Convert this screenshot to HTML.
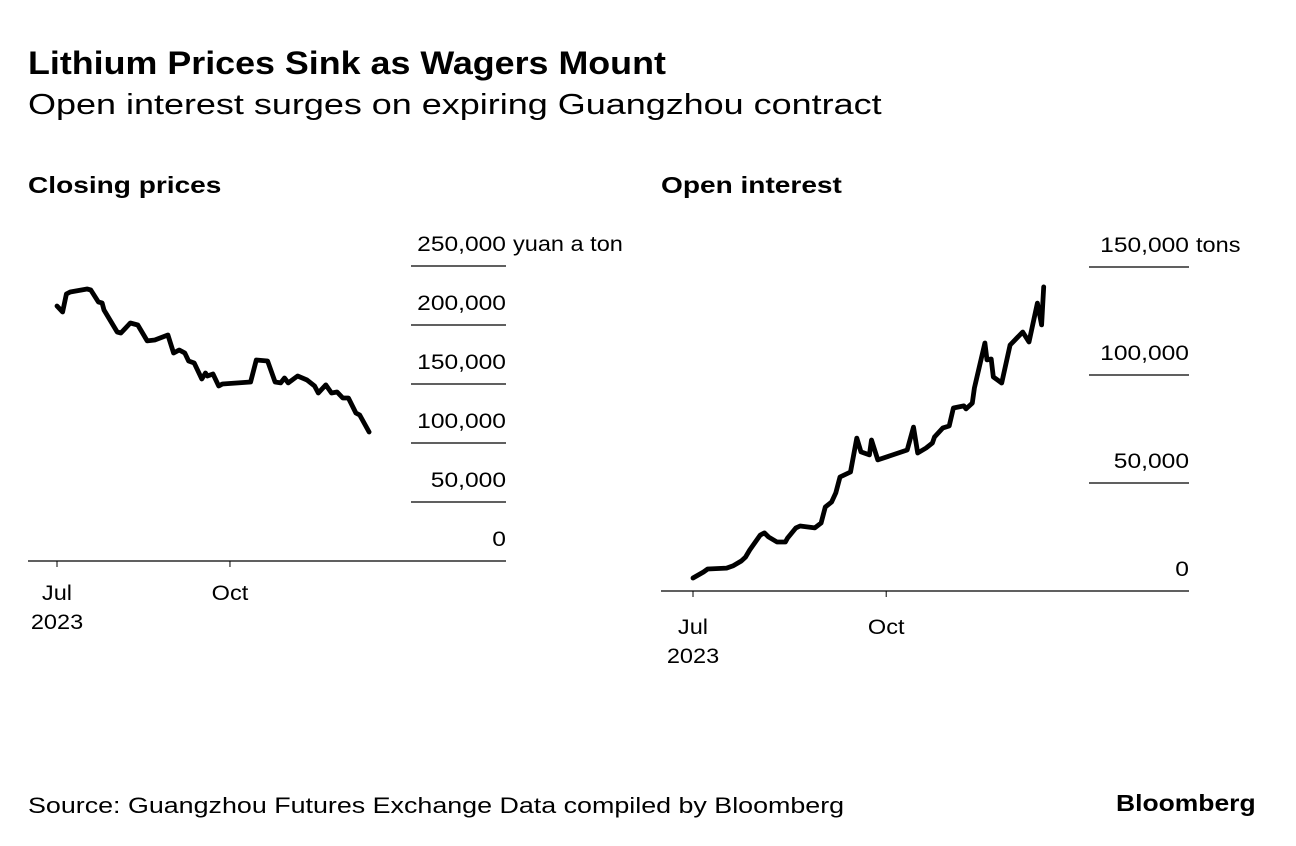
<!DOCTYPE html>
<html><head><meta charset="utf-8">
<style>
html,body{margin:0;padding:0;background:#fff;}
svg{display:block;font-family:"Liberation Sans",Arial,sans-serif;}
</style></head>
<body>
<svg id="c" width="1296" height="846" viewBox="0 0 1296 846">
<text x="28" y="74" font-size="32" font-weight="bold" fill="#000" data-sc="1.12">Lithium Prices Sink as Wagers Mount</text>
<text x="28" y="114" font-size="29" fill="#000" data-sc="1.24">Open interest surges on expiring Guangzhou contract</text>
<text x="28" y="193" font-size="23" font-weight="bold" data-sc="1.22">Closing prices</text>
<text x="661" y="193" font-size="23" font-weight="bold" data-sc="1.22">Open interest</text>
<text x="28" y="813" font-size="22" data-sc="1.22">Source: Guangzhou Futures Exchange Data compiled by Bloomberg</text>
<text x="1116" y="811" font-size="23" font-weight="bold" data-sc="1.15">Bloomberg</text>
<g id="left"></g>
<g id="right"></g>
</svg>
<script>
const priceDays=[0,3,5,7,10,16,18,22,24,25,32,34,39,43,48,52,59,62,65,68,70,73,77,79,80,83,86,88,103,106,112,116,119,121,123,128,133,137,139,143,146,149,152,155,159,161,166];
const priceValues=[216100,211000,226300,228000,228800,230500,229700,219500,218700,212700,194100,193200,201700,200000,186500,187300,191500,176300,178800,176300,169500,167800,154200,159300,156800,158500,148300,150000,151700,170300,169500,151700,150900,155100,150900,156800,153400,148300,142400,149200,142400,143200,138100,138100,125400,123700,109300];
const priceTicks=[0,50000,100000,150000,200000,250000];
const priceTickLabels=["0","50,000","100,000","150,000","200,000","250,000"];
const oiDays=[0,5,7,16,19,23,25,27,32,34,36,40,44,45,49,51,58,61,63,66,68,70,75,78,80,84,85,88,102,105,107,111,114,115,119,122,124,129,130,133,134,139,140,142,143,147,151,157,160,164,166,167];
const oiValues=[6000,8800,10200,10600,11600,13900,15700,19000,25900,26900,25000,22700,22700,24500,29200,30100,29200,31500,38900,41200,45400,52800,55100,70800,64400,63000,69900,60700,65300,75900,63900,66200,68500,71300,75500,76400,84700,85700,84300,87000,94000,114800,107000,107400,99100,96300,113900,119900,115300,133300,123200,140800];
const oiTicks=[0,50000,100000,150000];
const oiTickLabels=["0","50,000","100,000","150,000"];
const monthTicks=[0,92];
const monthLabels=["Jul","Oct"];

const NS="http://www.w3.org/2000/svg";
function mk(parent,tag,attrs,text){const e=document.createElementNS(NS,tag);for(const k in attrs)e.setAttribute(k,attrs[k]);if(text!==undefined)e.textContent=text;parent.appendChild(e);return e;}

function drawPanel(g,cfg,days,vals,ticks,labels,unit,prefix){
  const xs=d=>cfg.x0+d*cfg.pxDay;
  const ys=v=>cfg.yBase-v/ticks[ticks.length-1]*(cfg.yBase-cfg.yTop);
  ticks.forEach((t,i)=>{
    const y=ys(t);
    if(t!==0){
      const l=mk(g,'line',{x1:cfg.gx0,x2:cfg.gx1,y1:y,y2:y,stroke:'#000','stroke-width':1.2});
      
      
    }
    const tx=mk(g,'text',{x:cfg.gx1,y:y-15,'font-size':21,'text-anchor':'end','data-sc':'1.17'},labels[i]);
    
    
    if(i===ticks.length-1){
      const u=mk(g,'text',{x:cfg.gx1+7,y:y-15,'font-size':21,'data-sc':'1.12'},unit);
      
      
    }
  });
  const ax=mk(g,'line',{x1:cfg.ax0,x2:cfg.gx1,y1:cfg.yBase,y2:cfg.yBase,stroke:'#000','stroke-width':1.3});
  
  
  monthTicks.forEach((d,i)=>{
    const x=xs(d);
    const t=mk(g,'line',{x1:x,x2:x,y1:cfg.yBase,y2:cfg.yBase+6,stroke:'#000','stroke-width':1});
    
    
    const tl=mk(g,'text',{x:x,y:cfg.yBase+cfg.lblOff,'font-size':21,'text-anchor':'middle','data-sc':'1.12'},monthLabels[i]);
    
    
    if(i===0){
      const yr=mk(g,'text',{x:x,y:cfg.yBase+cfg.lblOff+29,'font-size':21,'text-anchor':'middle','data-sc':'1.12'},'2023');
      
      
    }
  });
  const pts=days.map((d,i)=>xs(d).toFixed(1)+','+ys(vals[i]).toFixed(1)).join(' ');
  const p=mk(g,'polyline',{points:pts,fill:'none',stroke:'#000','stroke-width':4.8,'stroke-linejoin':'round','stroke-linecap':'round'});
  
  
}
drawPanel(document.getElementById('left'),{x0:57,pxDay:1.88,yBase:561,yTop:266,gx0:411,gx1:506,ax0:28,lblOff:39},priceDays,priceValues,priceTicks,priceTickLabels,'yuan a ton','price');
drawPanel(document.getElementById('right'),{x0:693,pxDay:2.1,yBase:591,yTop:267,gx0:1089,gx1:1189,ax0:661,lblOff:43},oiDays,oiValues,oiTicks,oiTickLabels,'tons','oi');
document.querySelectorAll('text[data-sc]').forEach(t=>{
  const w=t.getComputedTextLength()*parseFloat(t.getAttribute('data-sc'));
  t.setAttribute('textLength',w.toFixed(1));
  t.setAttribute('lengthAdjust','spacingAndGlyphs');
});
</script>
</body></html>
